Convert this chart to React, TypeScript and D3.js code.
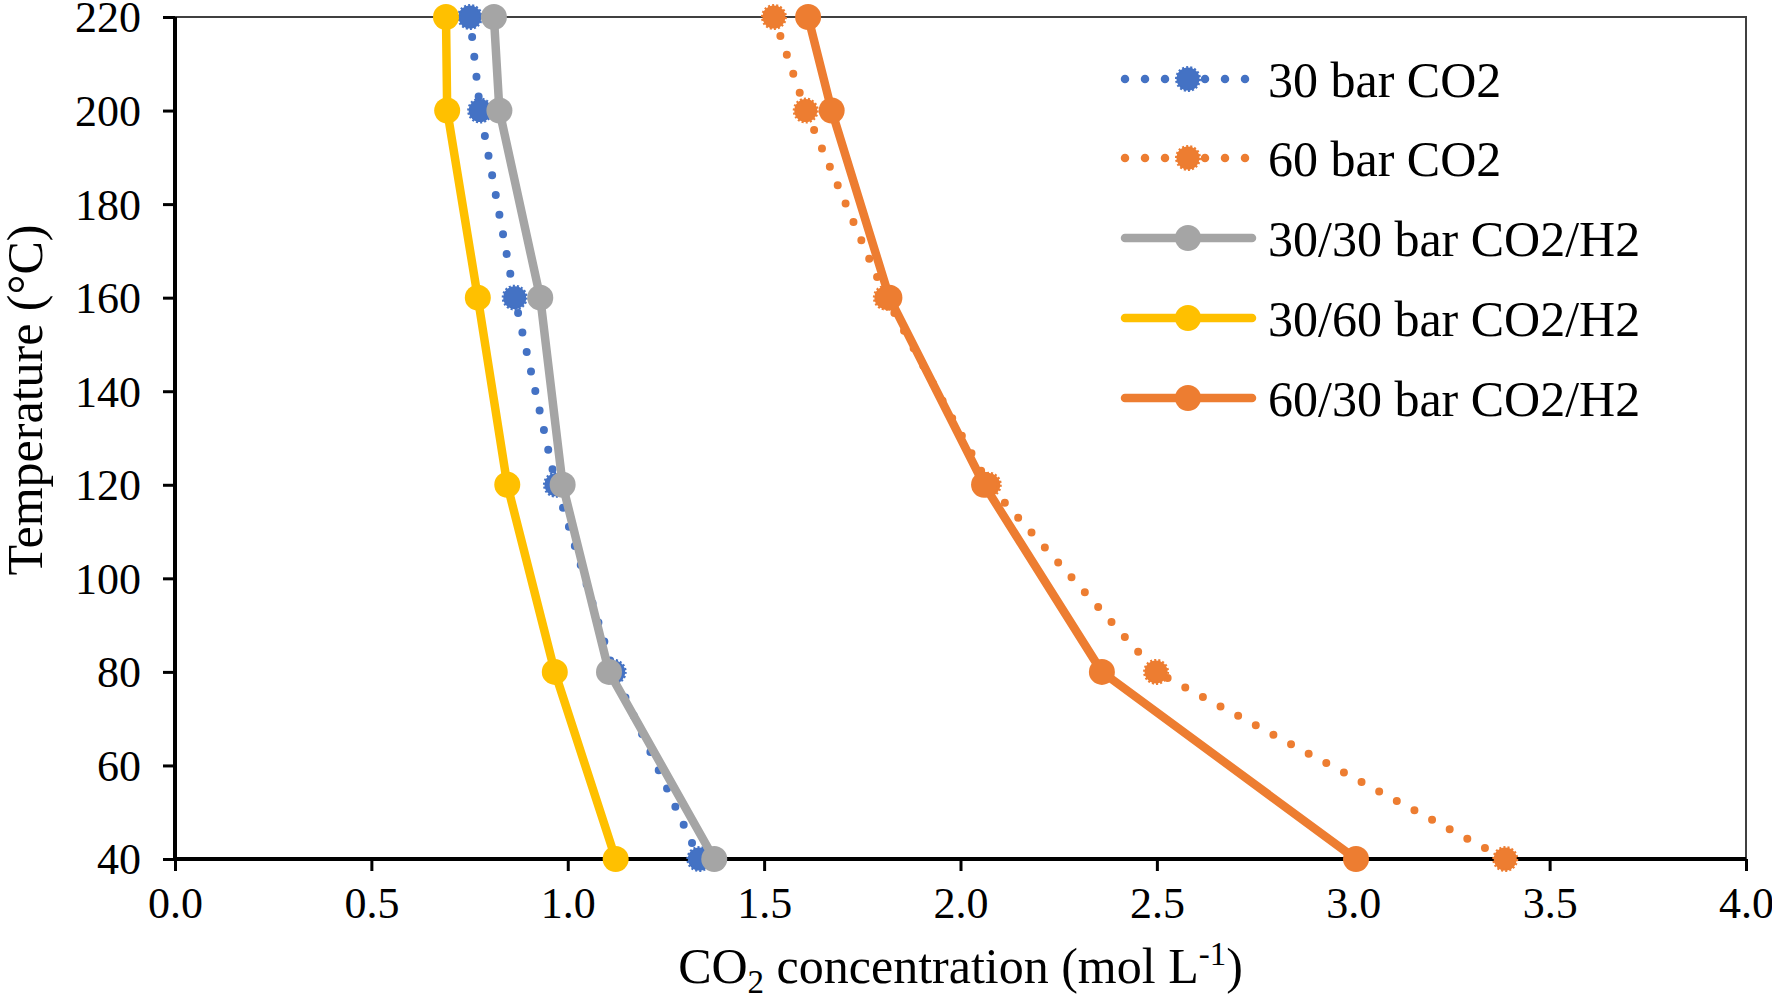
import React, { useEffect, useRef } from 'react';
import * as d3 from 'd3';

// temperatures (°C) at which each series was measured
const temperatures = [220, 200, 160, 120, 80, 40];

const co2_30 = [0.751, 0.777, 0.865, 0.970, 1.117, 1.335];
const co2_60 = [1.525, 1.606, 1.810, 2.072, 2.498, 3.387];
const co2h2_30_30 = [0.812, 0.826, 0.930, 0.987, 1.105, 1.373];
const co2h2_30_60 = [0.690, 0.693, 0.771, 0.846, 0.967, 1.122];
const co2h2_60_30 = [1.612, 1.672, 1.819, 2.060, 2.360, 3.007];

const seriesNames = ['30 bar CO2', '60 bar CO2', '30/30 bar CO2/H2', '30/60 bar CO2/H2', '60/30 bar CO2/H2'];
const seriesValues = [co2_30, co2_60, co2h2_30_30, co2h2_30_60, co2h2_60_30];
const seriesColors = ['#4472C4', '#ED7D31', '#A5A5A5', '#FFC000', '#ED7D31'];
const seriesDotted = [true, true, false, false, false];

const xTicks = [0, 0.5, 1, 1.5, 2, 2.5, 3, 3.5, 4];
const yTicks = [40, 60, 80, 100, 120, 140, 160, 180, 200, 220];

const FONT = '"Liberation Serif", "Times New Roman", serif';

const App: React.FC = () => {
  const svgRef = useRef<SVGSVGElement>(null);
  const width = 1772;
  const height = 999;

  useEffect(() => {
    if (!svgRef.current) return;
    const svg = d3.select(svgRef.current);
    svg.selectAll('*').remove();

    const margin = { top: 17, right: 26, bottom: 140, left: 175 };
    const innerW = width - margin.left - margin.right;
    const innerH = height - margin.top - margin.bottom;

    svg.append('rect').attr('width', width).attr('height', height).attr('fill', '#ffffff');

    const x = d3.scaleLinear().domain([0, 4]).range([0, innerW]);
    const y = d3.scaleLinear().domain([40, 220]).range([innerH, 0]);

    const g = svg.append('g').attr('transform', `translate(${margin.left}, ${margin.top})`);

    // plot area border (top / right thin)
    g.append('path')
      .attr('d', `M0,0 H${innerW} V${innerH}`)
      .attr('fill', 'none')
      .attr('stroke', '#404040')
      .attr('stroke-width', 2);

    // x axis
    const xAxis = d3.axisBottom(x)
      .tickValues(xTicks)
      .tickFormat(d3.format('.1f') as any)
      .tickSize(12)
      .tickPadding(16);
    const gx = g.append('g').attr('transform', `translate(0, ${innerH})`).call(xAxis);
    gx.select('.domain').attr('stroke', '#000').attr('stroke-width', 4).attr('d', `M0,0 H${innerW}`);
    gx.selectAll('.tick line').attr('stroke', '#000').attr('stroke-width', 3);
    gx.selectAll('.tick text')
      .attr('fill', '#000')
      .style('font-family', FONT)
      .style('font-size', '44px');

    // y axis
    const yAxis = d3.axisLeft(y)
      .tickValues(yTicks)
      .tickFormat(d3.format('d') as any)
      .tickSize(12)
      .tickPadding(22);
    const gy = g.append('g').call(yAxis);
    gy.select('.domain').attr('stroke', '#000').attr('stroke-width', 4).attr('d', `M0,0 V${innerH}`);
    gy.selectAll('.tick line').attr('stroke', '#000').attr('stroke-width', 3);
    gy.selectAll('.tick text')
      .attr('fill', '#000')
      .attr('dy', '0.34em')
      .style('font-family', FONT)
      .style('font-size', '44px');

    // series
    const line = d3.line<[number, number]>()
      .x(d => x(d[0]))
      .y(d => y(d[1]));

    seriesValues.forEach((vals, i) => {
      const pts: [number, number][] = vals.map((v, j) => [v, temperatures[j]]);
      const sg = g.append('g');
      sg.append('path')
        .datum(pts)
        .attr('d', line)
        .attr('fill', 'none')
        .attr('stroke', seriesColors[i])
        .attr('stroke-width', seriesDotted[i] ? 8 : 8.5)
        .attr('stroke-linecap', 'round')
        .attr('stroke-linejoin', 'round')
        .attr('stroke-dasharray', seriesDotted[i] ? '0 20' : null);
      sg.selectAll('circle')
        .data(pts)
        .enter()
        .append('circle')
        .attr('cx', d => x(d[0]))
        .attr('cy', d => y(d[1]))
        .attr('r', seriesDotted[i] ? 11.5 : 13)
        .attr('fill', seriesColors[i])
        .attr('stroke', seriesDotted[i] ? seriesColors[i] : 'none')
        .attr('stroke-width', 3)
        .attr('stroke-dasharray', seriesDotted[i] ? '2 2' : null);
    });

    // legend
    const legend = svg.append('g');
    const legendY = [79, 158, 238, 318, 398];
    seriesNames.forEach((name, i) => {
      const ly = legendY[i];
      const lg = legend.append('g');
      lg.append('line')
        .attr('x1', 1125).attr('x2', 1252)
        .attr('y1', ly).attr('y2', ly)
        .attr('stroke', seriesColors[i])
        .attr('stroke-width', 8.5)
        .attr('stroke-linecap', 'round')
        .attr('stroke-dasharray', seriesDotted[i] ? '0 20' : null);
      lg.append('circle')
        .attr('cx', 1188).attr('cy', ly)
        .attr('r', seriesDotted[i] ? 11.5 : 13)
        .attr('fill', seriesColors[i])
        .attr('stroke', seriesDotted[i] ? seriesColors[i] : 'none')
        .attr('stroke-width', 3)
        .attr('stroke-dasharray', seriesDotted[i] ? '2 2' : null);
      lg.append('text')
        .attr('x', 1268)
        .attr('y', ly)
        .attr('dy', '0.35em')
        .text(name)
        .style('font-family', FONT)
        .style('font-size', '50px')
        .style('fill', '#000');
    });

    // x title
    const xt = svg.append('text')
      .attr('x', margin.left + innerW / 2)
      .attr('y', 983)
      .attr('text-anchor', 'middle')
      .style('font-family', FONT)
      .style('font-size', '50px')
      .style('fill', '#000');
    xt.append('tspan').text('CO');
    xt.append('tspan').text('2').attr('dy', 10).style('font-size', '33px');
    xt.append('tspan').text(' concentration (mol L').attr('dy', -10);
    xt.append('tspan').text('-1').attr('dy', -18).style('font-size', '33px');
    xt.append('tspan').text(')').attr('dy', 18);

    // y title
    svg.append('text')
      .attr('transform', `translate(42, 400) rotate(-90)`)
      .attr('text-anchor', 'middle')
      .text('Temperature (°C)')
      .style('font-family', FONT)
      .style('font-size', '50px')
      .style('fill', '#000');
  }, []);

  return (
    <div style={{ position: 'absolute', left: 0, top: 0, width, height, background: '#fff' }}>
      <svg ref={svgRef} width={width} height={height} style={{ display: 'block' }} />
    </div>
  );
};

export default App;
